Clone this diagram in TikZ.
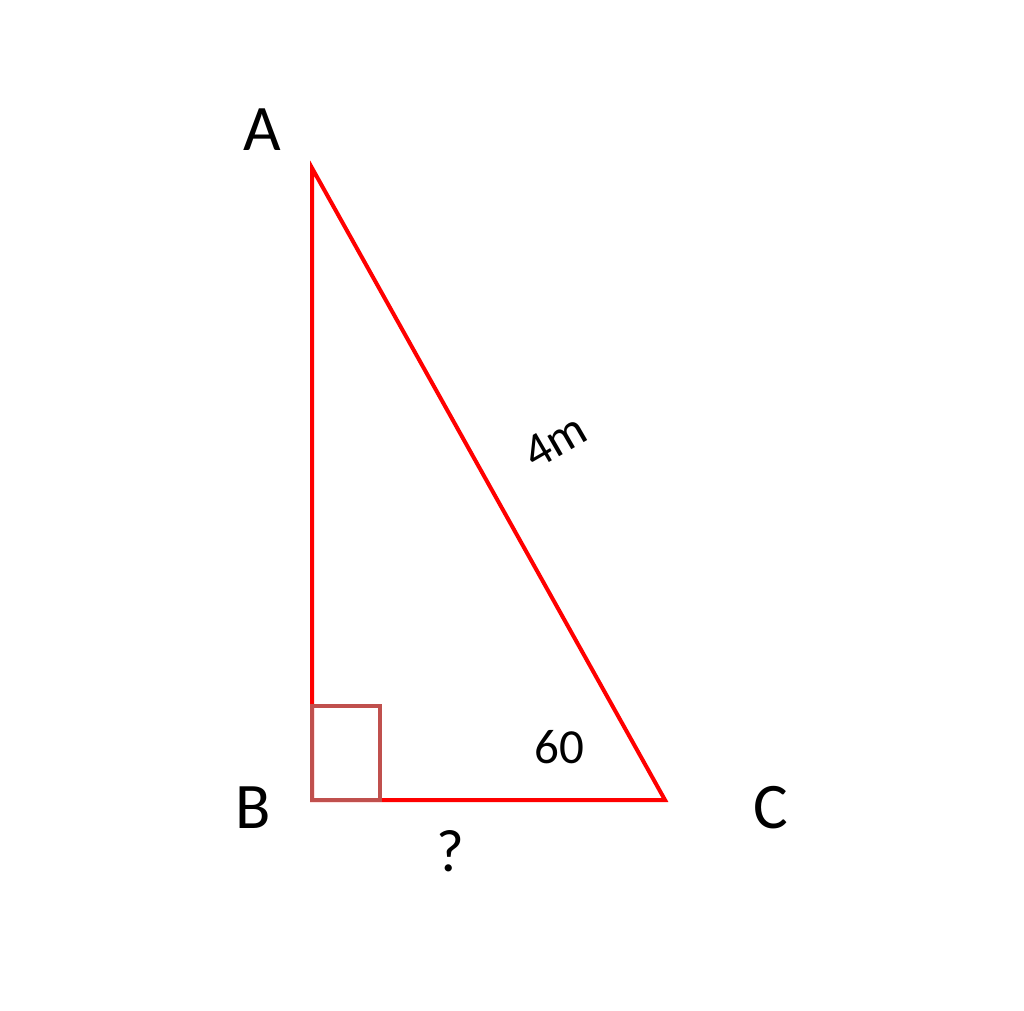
\documentclass[tikz,border=0pt]{standalone}
\usepackage{fontspec}
\setmainfont{Carlito}
\usetikzlibrary{positioning}
\definecolor{cff0000}{RGB}{255,0,0}
\definecolor{cc0504d}{RGB}{192,80,77}

\begin{document}
\begin{tikzpicture}[y=1pt, x=1pt, yscale=-1, inner sep=0pt, outer sep=0pt,
  vlabel/.style={font=\fontsize{65}{65}\selectfont},
  slabel/.style={font=\fontsize{49}{49}\selectfont}]
  \useasboundingbox (0,0) rectangle (1024,1010);
  \coordinate (A) at (312,168);
  \coordinate (B) at (312,800);
  \coordinate (C) at (665,800);
  \path[draw=cff0000,line join=miter,line cap=butt,line width=4pt]
  (A) -- (B) -- (C) -- cycle;
  \path[draw=cc0504d,line join=miter,line cap=butt,line width=3.5pt]
  (B) rectangle (380,706);
  \path[fill=black] (262,130) node (textA) [vlabel] {A};
  \path[fill=black] (253,808) node (textB) [vlabel] {B};
  \path[fill=black] (771,808) node (textC) [vlabel] {C};
  \path[fill=black] (555,441) node[slabel,rotate=30] (textAC) {4m};
  \path[fill=black] (559,747) node[slabel] (textangle) {60};
  \path[fill=black] (450,851) node[slabel,font=\fontsize{60}{60}\selectfont] (textBC) {?};
\end{tikzpicture}
\end{document}
